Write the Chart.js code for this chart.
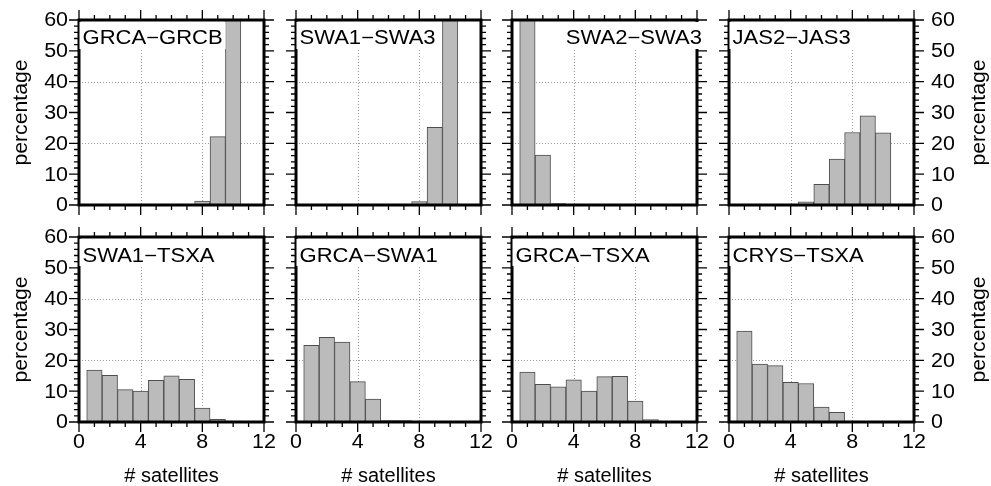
<!DOCTYPE html>
<html>
<head>
<meta charset="utf-8">
<script src="https://cdn.jsdelivr.net/npm/chart.js@4.4.1/dist/chart.umd.min.js"></script>
<style>
  body { margin: 0; background: #fff; }
  #wrap { position: relative; width: 991px; height: 486px; }
  #wrap canvas { position: absolute; left: 0; top: 0; }
</style>
</head>
<body>
<div id="wrap"></div>
<script>
// bins: number of satellites 0..12
const binCenters = [0, 1, 2, 3, 4, 5, 6, 7, 8, 9, 10, 11, 12];
const xTickLabels = [0, 4, 8, 12];
const yTickLabels = [0, 10, 20, 30, 40, 50, 60];

const pairNames = [
  "GRCA\u2212GRCB", "SWA1\u2212SWA3", "SWA2\u2212SWA3", "JAS2\u2212JAS3",
  "SWA1\u2212TSXA", "GRCA\u2212SWA1", "GRCA\u2212TSXA", "CRYS\u2212TSXA",
];

// percentage per bin
const grcaGrcb = [0, 0, 0, 0, 0, 0, 0, 0, 1.3, 22.2, 76.5, 0, 0];
const swa1Swa3 = [0, 0, 0, 0, 0, 0, 0, 0, 1.1, 25.2, 73.7, 0, 0];
const swa2Swa3 = [0, 83.3, 16.2, 0.5, 0, 0, 0, 0, 0, 0, 0, 0, 0];
const jas2Jas3 = [0, 0, 0, 0, 0, 1.0, 6.7, 14.9, 23.5, 28.9, 23.4, 0, 0];
const swa1Tsxa = [0.3, 16.8, 15.1, 10.5, 10.0, 13.5, 15.0, 13.8, 4.5, 0.9, 0.3, 0.2, 0.2];
const grcaSwa1 = [0.2, 24.9, 27.5, 25.9, 13.1, 7.4, 0.5, 0.5, 0.1, 0.1, 0.1, 0.1, 0.1];
const grcaTsxa = [0.3, 16.2, 12.2, 11.4, 13.7, 10.0, 14.7, 14.8, 6.8, 0.8, 0.2, 0.2, 0.2];
const crysTsxa = [0.3, 29.5, 18.8, 18.3, 12.9, 12.5, 4.8, 3.1, 0.3, 0.1, 0.1, 0.1, 0.1];

const panelValues = [grcaGrcb, swa1Swa3, swa2Swa3, jas2Jas3, swa1Tsxa, grcaSwa1, grcaTsxa, crysTsxa];

// layout
const W = 991, H = 486;
const panelLefts = [79, 296, 512, 729];
const panelTops = [20, 237];
const panelSize = 185;
const FONT = '"Liberation Sans", Arial, sans-serif';

function stretchText(ctx, str, x, y, align, base, sx, rot) {
  ctx.save();
  ctx.translate(x, y);
  if (rot) ctx.rotate(rot);
  ctx.scale(sx, 1);
  ctx.textAlign = align;
  ctx.textBaseline = base;
  ctx.fillText(str, 0, 0);
  ctx.restore();
}

const panelDeco = {
  id: "panelDeco",
  beforeDatasetsDraw(chart) {
    const { ctx, chartArea: a, scales } = chart;
    ctx.save();
    ctx.strokeStyle = "#9a9a9a";
    ctx.lineWidth = 1;
    ctx.setLineDash([1, 2]);
    [4, 8].forEach((v) => {
      const x = Math.round(scales.x.getPixelForValue(v)) + 0.5;
      ctx.beginPath(); ctx.moveTo(x, a.top); ctx.lineTo(x, a.bottom); ctx.stroke();
    });
    [20, 40].forEach((v) => {
      const y = Math.round(scales.y.getPixelForValue(v)) + 0.5;
      ctx.beginPath(); ctx.moveTo(a.left, y); ctx.lineTo(a.right, y); ctx.stroke();
    });
    ctx.restore();
  },
  afterDatasetsDraw(chart, args, opts) {
    const { ctx, chartArea: a, scales } = chart;
    ctx.save();
    ctx.strokeStyle = "#000";
    // ticks on all four sides
    ctx.lineWidth = 1.3;
    for (let v = 0; v <= 12; v++) {
      const x = scales.x.getPixelForValue(v);
      const len = v % 4 === 0 ? 10 : 5;
      ctx.beginPath();
      ctx.moveTo(x, a.top); ctx.lineTo(x, a.top - len);
      ctx.moveTo(x, a.bottom); ctx.lineTo(x, a.bottom + len);
      ctx.stroke();
    }
    for (let v = 0; v <= 60; v += 2) {
      const y = scales.y.getPixelForValue(v);
      const len = v % 10 === 0 ? 10 : 5;
      ctx.beginPath();
      ctx.moveTo(a.left, y); ctx.lineTo(a.left - len, y);
      ctx.moveTo(a.right, y); ctx.lineTo(a.right + len, y);
      ctx.stroke();
    }
    // frame
    ctx.lineWidth = 3;
    ctx.strokeRect(a.left, a.top, a.right - a.left, a.bottom - a.top);

    // tick labels and axis titles
    ctx.fillStyle = "#000";
    const tickFont = "19.5px " + FONT;
    const labelFont = "20px " + FONT;
    if (opts.col === 0) {
      ctx.font = tickFont;
      yTickLabels.forEach((v) => {
        stretchText(ctx, String(v), a.left - 11, scales.y.getPixelForValue(v) + 1, "right", "middle", 1.1);
      });
      ctx.font = labelFont;
      stretchText(ctx, "percentage", 21, (a.top + a.bottom) / 2, "center", "middle", 1.06, -Math.PI / 2);
    }
    if (opts.col === 3) {
      ctx.font = tickFont;
      yTickLabels.forEach((v) => {
        stretchText(ctx, String(v), a.right + 17, scales.y.getPixelForValue(v) + 1, "left", "middle", 1.1);
      });
      ctx.font = labelFont;
      stretchText(ctx, "percentage", 979, (a.top + a.bottom) / 2, "center", "middle", 1.06, -Math.PI / 2);
    }
    if (opts.row === 1) {
      ctx.font = tickFont;
      xTickLabels.forEach((v) => {
        stretchText(ctx, String(v), scales.x.getPixelForValue(v), a.bottom + 21, "center", "middle", 1.1);
      });
      ctx.font = labelFont;
      stretchText(ctx, "# satellites", (a.left + a.right) / 2, 482, "center", "alphabetic", 1.0);
    }

    // panel title with white box
    ctx.font = "19.5px " + FONT;
    const tw = ctx.measureText(opts.title).width * 1.13;
    const base = a.top + 23.5 + opts.row * 1.5;
    let tx = a.left + 3.5;
    if (opts.titleRight) tx = a.right + 5 - tw;
    ctx.fillStyle = "#fff";
    ctx.fillRect(tx - 3, a.top + 2, tw + 6, 27);
    ctx.fillStyle = "#000";
    stretchText(ctx, opts.title, tx, base, "left", "alphabetic", 1.13);
    ctx.restore();
  },
};

const wrap = document.getElementById("wrap");

panelValues.forEach((values, i) => {
  const col = i % 4;
  const row = Math.floor(i / 4);
  const left = panelLefts[col];
  const top = panelTops[row];

  const canvas = document.createElement("canvas");
  canvas.width = W;
  canvas.height = H;
  wrap.appendChild(canvas);

  new Chart(canvas.getContext("2d"), {
    type: "bar",
    data: {
      datasets: [
        {
          data: values.map((v, k) => ({ x: binCenters[k], y: v })),
          backgroundColor: "#bbbbbb",
          borderColor: "#4d4d4d",
          borderWidth: 1,
          borderSkipped: false,
          barPercentage: 1,
          categoryPercentage: 1,
          clip: 0,
        },
      ],
    },
    options: {
      responsive: false,
      animation: false,
      events: [],
      layout: {
        padding: {
          left: left,
          top: top,
          right: W - left - panelSize,
          bottom: H - top - panelSize,
        },
      },
      plugins: {
        legend: { display: false },
        tooltip: { enabled: false },
        panelDeco: { title: pairNames[i], col: col, row: row, titleRight: i === 2 },
      },
      scales: {
        x: { type: "linear", min: 0, max: 12, offset: false, display: false },
        y: { min: 0, max: 60, display: false },
      },
    },
    plugins: [panelDeco],
  });
});
</script>
</body>
</html>
